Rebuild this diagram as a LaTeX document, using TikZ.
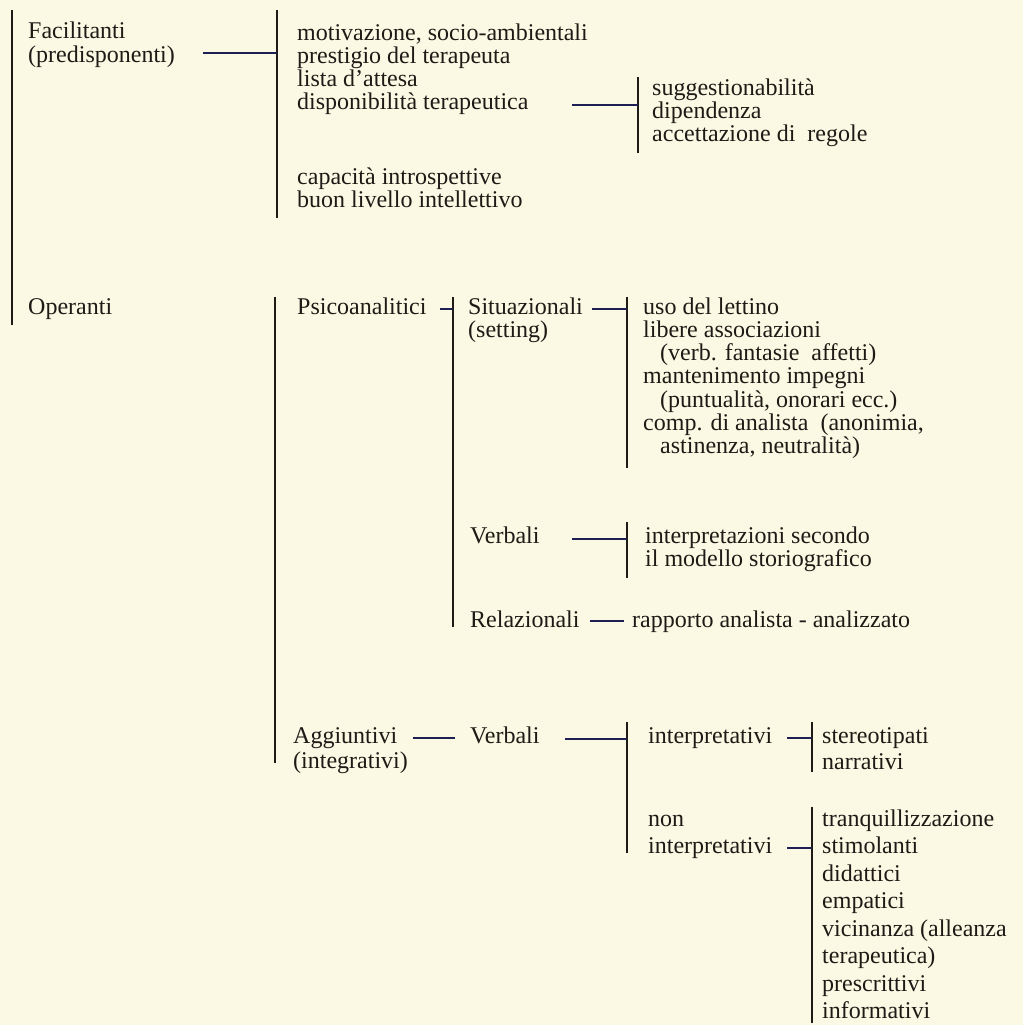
\documentclass[tikz,border=0pt]{standalone}
\usepackage{fontspec}
\setmainfont{Liberation Serif}
\usepackage{tikz}
\definecolor{paper}{RGB}{251,249,227}
\definecolor{ink}{RGB}{30,26,22}
\definecolor{navy}{RGB}{30,32,85}
% multi-line entries are placed at the baseline of their last line
\tikzstyle{entry}=[anchor=base west,inner sep=0pt,align=left,text=ink,font=\fontsize{24}{23.3}\selectfont]
\tikzstyle{wide}=[font=\fontsize{24}{27.5}\selectfont]
\tikzstyle{bracket}=[draw=ink,line width=1.8pt]
\tikzstyle{link}=[draw=navy,line width=2pt]

\begin{document}
\begin{tikzpicture}[x=1pt,y=-1pt]
  \fill[paper] (0,0) rectangle (1023,1025);
  \useasboundingbox (0,0) rectangle (1023,1025);

  % first level
  \node[entry] (fac) at (28,62.3) {Facilitanti\\(predisponenti)};
  \node[entry] (ope) at (28,314) {Operanti};

  % facilitanti
  \node[entry] (mot) at (297,109.9) {motivazione, socio-ambientali\\prestigio del terapeuta\\lista d'attesa\\disponibilità terapeutica};
  \node[entry] (cap) at (297,207.3) {capacità introspettive\\buon livello intellettivo};
  \node[entry] (sug) at (652,141.6) {suggestionabilità\\dipendenza\\accettazione di~~regole};

  % operanti
  \node[entry] (psi) at (297,314) {Psicoanalitici};
  \node[entry] (sit) at (468,337.3) {Situazionali\\(setting)};
  \node[entry] (uso) at (643,453.8) {uso del lettino\\libere associazioni\\\hspace*{17pt}(verb. fantasie~~affetti)\\mantenimento impegni\\\hspace*{17pt}(puntualità, onorari ecc.)\\comp. di analista~~(anonimia,\\\hspace*{17pt}astinenza, neutralità)};
  \node[entry] (vb1) at (470,543) {Verbali};
  \node[entry] (itz) at (645,566.3) {interpretazioni secondo\\il modello storiografico};
  \node[entry] (rel) at (470,627) {Relazionali};
  \node[entry] (rap) at (632,627) {rapporto analista - analizzato};

  \node[entry,font=\fontsize{24}{25}\selectfont] (agg) at (293,768) {Aggiuntivi\\(integrativi)};
  \node[entry] (vb2) at (470,743) {Verbali};
  \node[entry] (itp) at (648,743) {interpretativi};
  \node[entry,font=\fontsize{24}{26}\selectfont] (ste) at (822,769) {stereotipati\\narrativi};
  \node[entry,wide] (non) at (648,853.5) {non\\interpretativi};
  \node[entry,wide] (tra) at (822,1018.5) {tranquillizzazione\\stimolanti\\didattici\\empatici\\vicinanza (alleanza\\terapeutica)\\prescrittivi\\informativi};

  % vertical brackets
  \foreach \n/\x/\a/\b in {1/12/10/325, 2/277/10/218, 3/638/77/153, 4/275/297/763, 5/453/297/627,
                          6/627/297/468, 7/627/522/578, 8/627/722/853, 9/812/722/772, 10/812/807/1023}{
    \coordinate (top\n) at (\x,\a);
    \coordinate (bot\n) at (\x,\b);
    \draw[bracket] (top\n) -- (bot\n);
  }

  % links into the brackets
  \foreach \c/\x/\y/\n in {fac/203/53/2, dis/572/105/3, psi/440/309/5, sit/592/309/6,
                          vb1/572/539/7, vb2/565/739/8, itp/787/738/9, non/787/848/10}{
    \coordinate (l\c) at (\x,\y);
    \draw[link] (l\c) -- (l\c -| top\n);
  }

  % free dashes
  \coordinate (agga) at (413,738);
  \coordinate (aggb) at (455,738);
  \coordinate (rela) at (590,621);
  \coordinate (relb) at (624,621);
  \draw[link] (agga) -- (aggb);
  \draw[link] (rela) -- (relb);
\end{tikzpicture}
\end{document}
